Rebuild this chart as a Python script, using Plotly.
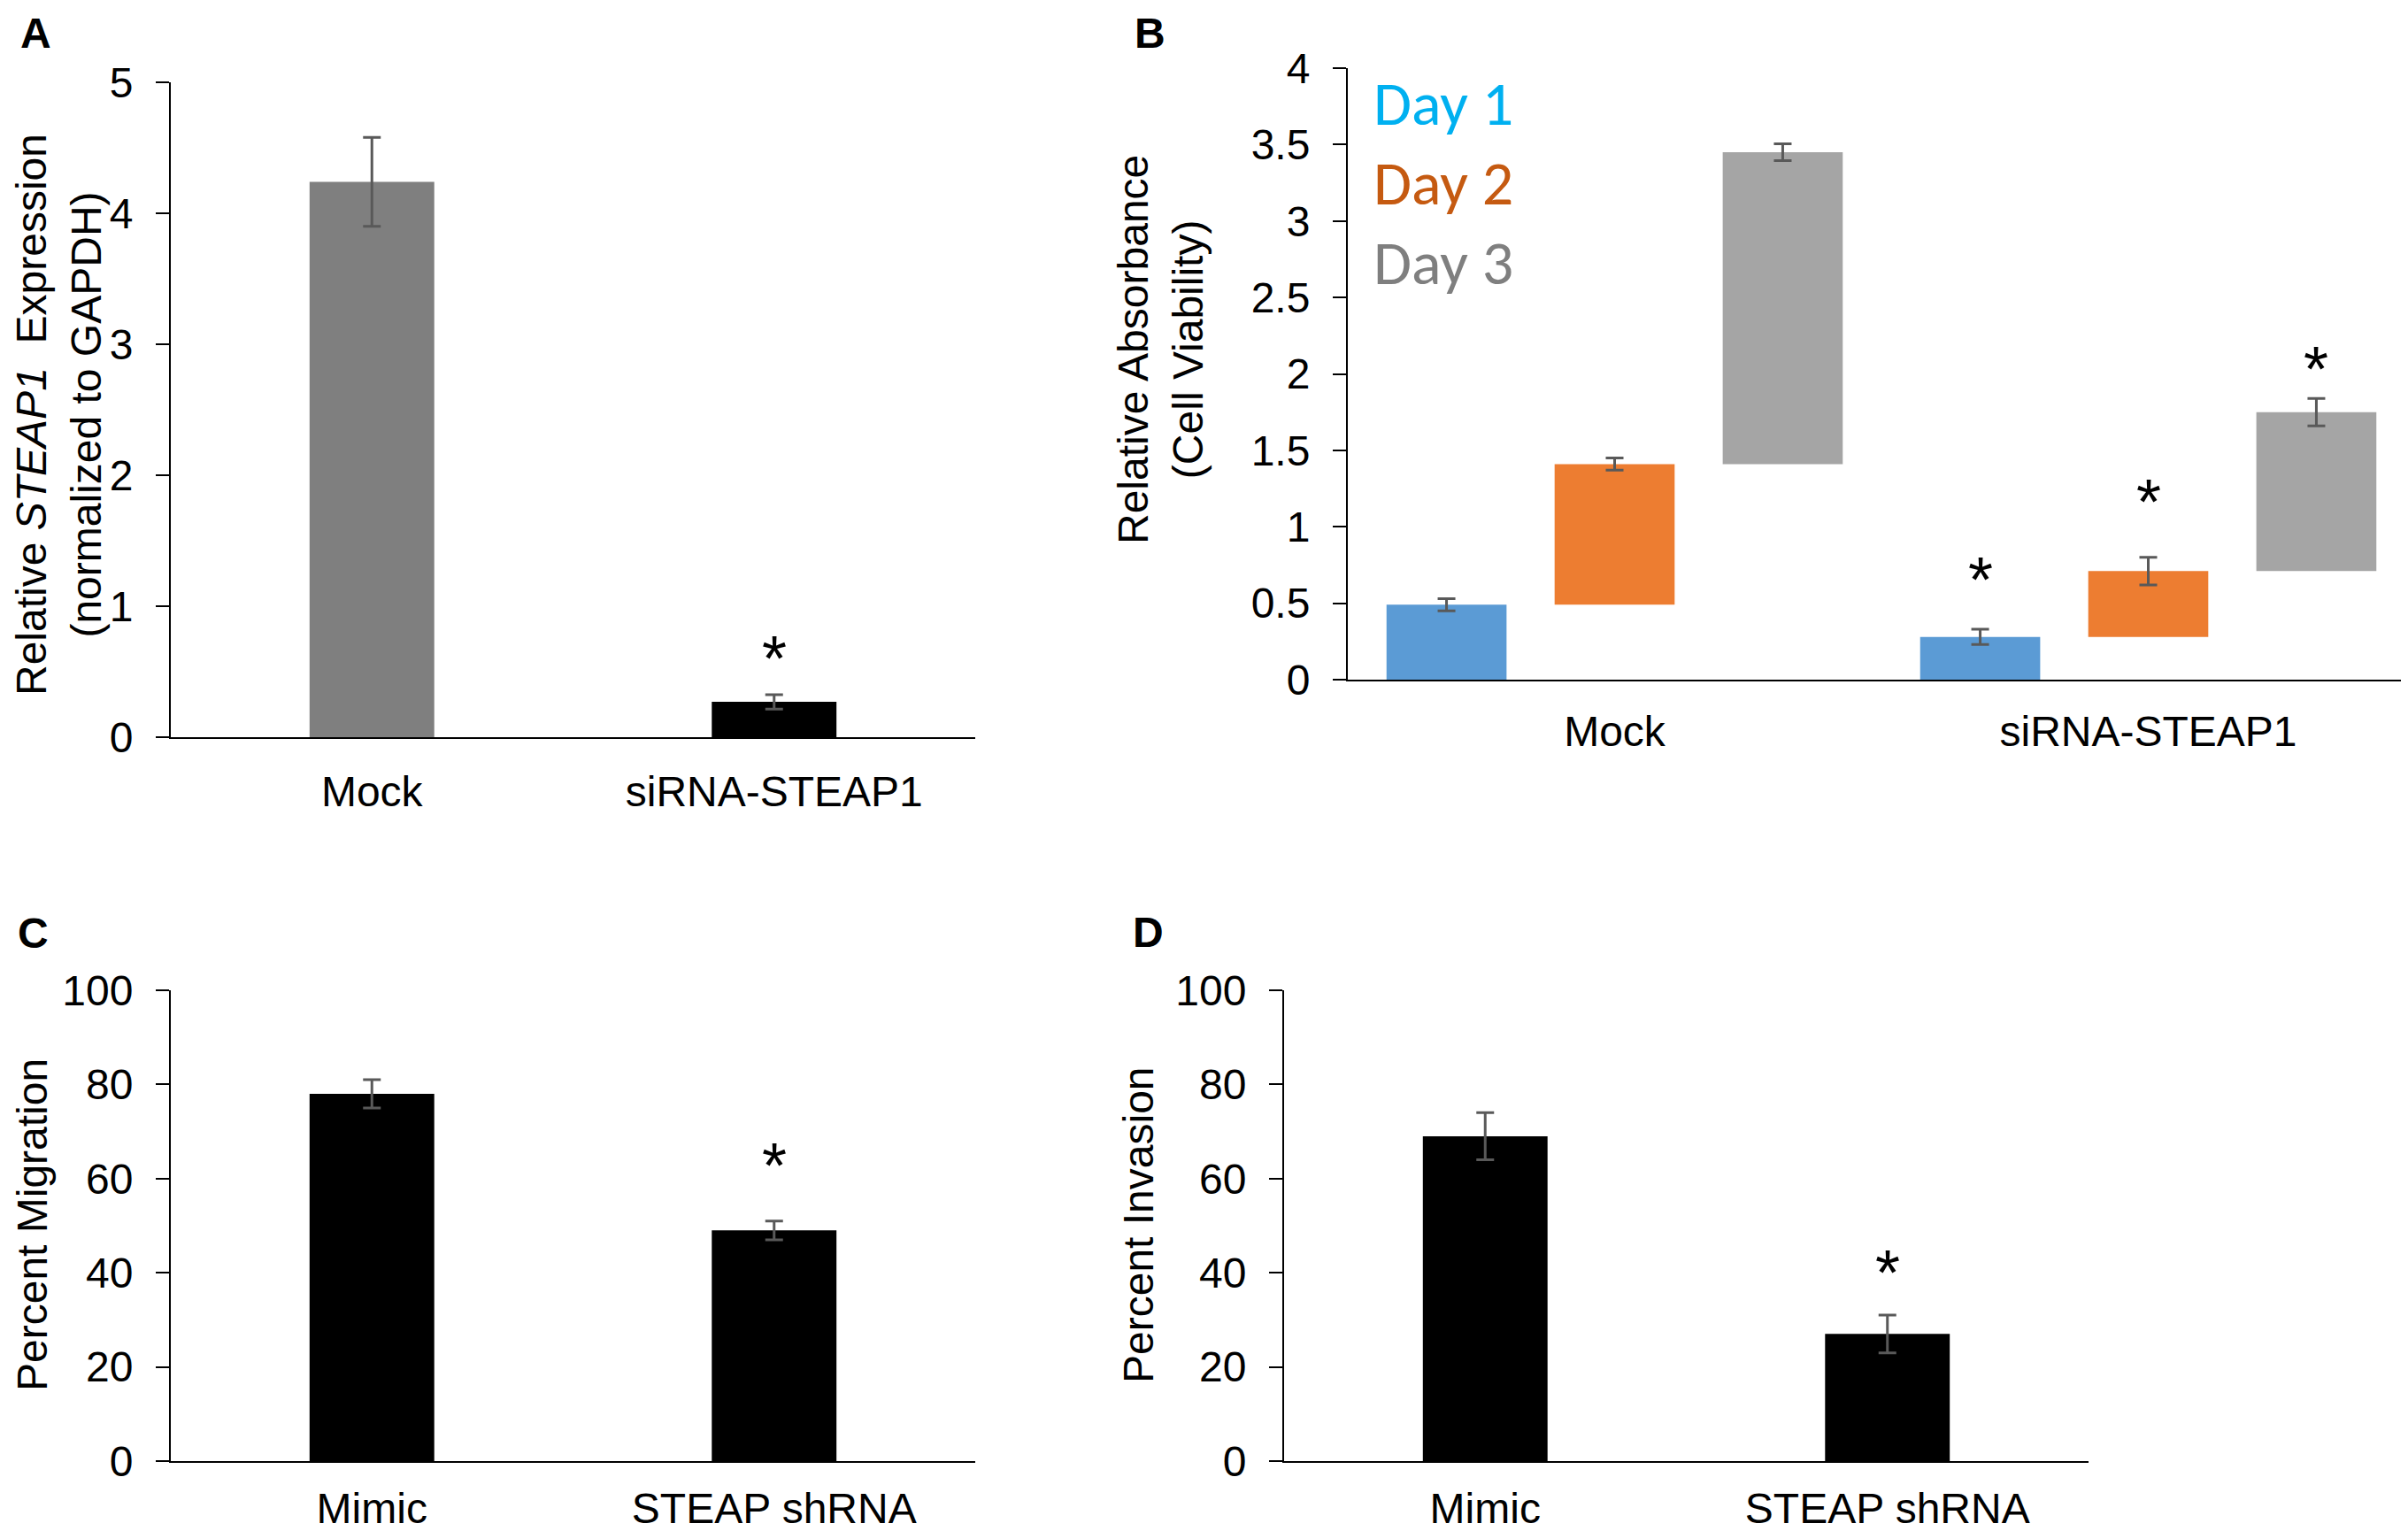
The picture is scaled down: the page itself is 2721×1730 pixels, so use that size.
import plotly.graph_objects as go

W, H = 2721, 1730
OFFX, OFFY = 8, 11  # the page body adds a small margin around the figure

# panel A - STEAP1 expression
a_groups = ['Mock', 'siRNA-STEAP1']
a_values = [4.24, 0.27]
a_errors = [0.34, 0.055]
a_colors = ['#7f7f7f', '#000000']
a_star = [0.67]

# panel B - cell viability, bars start where the previous day ended
b_groups = ['Mock', 'siRNA-STEAP1']
b_days = ['Day 1', 'Day 2', 'Day 3']
b_day1 = [0.49, 0.28]
b_day2 = [1.41, 0.71]
b_day3 = [3.45, 1.75]
b_err1 = [0.04, 0.05]
b_err2 = [0.04, 0.09]
b_err3 = [0.055, 0.09]
b_star = [0.71, 1.22, 2.09]   # siRNA group, one per day

# panel C - migration
c_groups = ['Mimic', 'STEAP shRNA']
c_values = [78, 49]
c_errors = [3, 2]
c_star = [64.7]

# panel D - invasion
d_groups = ['Mimic', 'STEAP shRNA']
d_values = [69, 27]
d_errors = [5, 4]
d_star = [41.9]

bar_colors = ['#5b9bd5', '#ed7d31', '#a5a5a5']
label_colors = ['#00b0f0', '#c55a11', '#7f7f7f']

FONT = 'Liberation Sans, Arial, sans-serif'
ERR = '#595959'


def px_x(p):
    return (p - OFFX) / W


def px_y(p):
    return 1 - (p - OFFY) / H


def err(vals):
    return dict(type='data', array=vals, color=ERR, thickness=3, width=10)


fig = go.Figure()

fig.add_trace(go.Bar(x=a_groups, y=a_values, marker=dict(color=a_colors, line_width=0),
                     error_y=err(a_errors), xaxis='x', yaxis='y', showlegend=False))

tops = [b_day1, b_day2, b_day3]
errs = [b_err1, b_err2, b_err3]
for i, day in enumerate(b_days):
    base = [0] * len(b_groups) if i == 0 else tops[i - 1]
    height = [t - b for t, b in zip(tops[i], base)]
    fig.add_trace(go.Bar(x=b_groups, y=height, base=base, name=day,
                         marker=dict(color=bar_colors[i], line_width=0),
                         error_y=err(errs[i]), xaxis='x2', yaxis='y2',
                         offsetgroup=str(i), showlegend=False))

fig.add_trace(go.Bar(x=c_groups, y=c_values, marker=dict(color='black', line_width=0),
                     error_y=err(c_errors), xaxis='x3', yaxis='y3', showlegend=False))
fig.add_trace(go.Bar(x=d_groups, y=d_values, marker=dict(color='black', line_width=0),
                     error_y=err(d_errors), xaxis='x4', yaxis='y4', showlegend=False))


def xax(left, right, anchor, label_gap):
    return dict(domain=[px_x(left), min(px_x(right), 1)], anchor=anchor, type='category',
                range=[-0.5, 1.5], showline=True, linecolor='black', linewidth=2,
                ticks='outside', ticklen=label_gap, tickcolor='rgba(0,0,0,0)',
                showgrid=False, zeroline=False, automargin=False,
                tickfont=dict(family=FONT, size=48, color='black'))


def yax(bottom, top, anchor, rng, dtick):
    return dict(domain=[px_y(bottom), px_y(top)], anchor=anchor, range=rng, dtick=dtick,
                showline=True, linecolor='black', linewidth=2, ticks='outside',
                ticklen=15, tickwidth=2, tickcolor='black', showgrid=False,
                zeroline=False, ticklabelstandoff=16, automargin=False,
                tickfont=dict(family=FONT, size=48, color='black'))


fig.update_layout(
    width=W, height=H, autosize=False,
    margin=dict(l=0, r=0, t=0, b=0, pad=0),
    paper_bgcolor='white', plot_bgcolor='white',
    barmode='group', bargap=0.055, bargroupgap=0.286,
    xaxis=xax(193, 1102, 'y', 18),
    yaxis=yax(836, 96, 'x', [0, 5], 1),
    xaxis2=xax(1523, 2729, 'y2', 15),
    yaxis2=yax(771, 80, 'x2', [0, 4], 0.5),
    xaxis3=xax(193, 1102, 'y3', 10),
    yaxis3=yax(1654, 1122, 'x3', [0, 100], 20),
    xaxis4=xax(1451, 2360, 'y4', 10),
    yaxis4=yax(1654, 1122, 'x4', [0, 100], 20),
)

# single-bar panels need wider gaps than the grouped one
for t in fig.data:
    if t.xaxis != 'x2':
        t.width = 0.31

ann = []


def paper_text(text, x, y, size, color='black', family=FONT, angle=0,
               xanchor='center', yanchor='middle'):
    return dict(text=text, x=px_x(x), y=px_y(y), xref='paper', yref='paper',
                xanchor=xanchor, yanchor=yanchor, textangle=angle, showarrow=False,
                font=dict(family=family, size=size, color=color))


# panel letters (anchored at their top, kept inside the page)
for letter, x, y in [('A', 40, 30), ('B', 1299, 27), ('C', 37, 1055), ('D', 1297, 1054)]:
    ann.append(paper_text('<b>%s</b>' % letter, x, max(y - 26, OFFY + 1), 48, yanchor='top'))

# y titles
for text, x, y in [('Relative <i>STEAP1</i>  Expression<br>(normalized to GAPDH)', 66, 472),
                   ('Relative Absorbance<br>(Cell Viability)', 1312, 398),
                   ('Percent Migration', 36, 1387),
                   ('Percent Invasion', 1286, 1387)]:
    ann.append(paper_text(text, x, y, 48, angle=-90))

# day labels
for i, day in enumerate(b_days):
    ann.append(paper_text(day, 1550, 120 + i * 90, 70, color=label_colors[i],
                          family='Carlito, Lato, sans-serif', xanchor='left'))

# significance stars
star_font = dict(family=FONT, size=72, color='black')
slot = (1 - 0.055) / 3
stars = [('x', 'y', 1, a_star[0]), ('x3', 'y3', 1, c_star[0]), ('x4', 'y4', 1, d_star[0])]
for i, s in enumerate(b_star):
    stars.append(('x2', 'y2', 1 + (i - 1) * slot, s))
for xr, yr, x, y in stars:
    ann.append(dict(text='*', x=x, y=y, xref=xr, yref=yr, showarrow=False,
                    xanchor='center', yanchor='middle', yshift=-10, font=star_font))

fig.update_layout(annotations=ann)

fig.write_html("out.html")
